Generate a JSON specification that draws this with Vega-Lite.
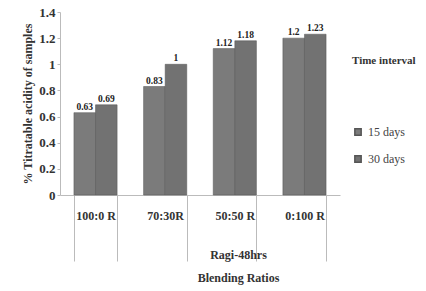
{
  "$schema": "https://vega.github.io/schema/vega-lite/v6.json",
  "width": 280,
  "height": 183,
  "autosize": {"type": "none"},
  "padding": {"left": 60, "top": 12, "right": 86, "bottom": 96},
  "background": "white",
  "config": {
    "view": {"stroke": null},
    "font": "Liberation Serif",
    "axis": {"labelFont": "Liberation Serif", "titleFont": "Liberation Serif"},
    "legend": {"labelFont": "Liberation Serif", "titleFont": "Liberation Serif"}
  },
  "data": {
    "values": [
      {"ratio": "100:0 R", "interval": "15 days", "acidity": 0.63},
      {"ratio": "100:0 R", "interval": "30 days", "acidity": 0.69},
      {"ratio": "70:30R", "interval": "15 days", "acidity": 0.83},
      {"ratio": "70:30R", "interval": "30 days", "acidity": 1},
      {"ratio": "50:50 R", "interval": "15 days", "acidity": 1.12},
      {"ratio": "50:50 R", "interval": "30 days", "acidity": 1.18},
      {"ratio": "0:100 R", "interval": "15 days", "acidity": 1.2},
      {"ratio": "0:100 R", "interval": "30 days", "acidity": 1.23}
    ]
  },
  "encoding": {
    "x": {
      "field": "ratio",
      "type": "nominal",
      "sort": null,
      "scale": {"paddingInner": 0.38, "paddingOuter": 0.2},
      "axis": {
        "title": ["Ragi-48hrs", "Blending Ratios"],
        "titleFontWeight": "bold",
        "titleFontSize": 12,
        "titleColor": "#333",
        "titleX": 178,
        "titleY": 54,
        "titleAlign": "center",
        "titleBaseline": "top",
        "titleLineHeight": 23,
        "labelAngle": 0,
        "labelFontWeight": "bold",
        "labelFontSize": 12,
        "labelColor": "#333",
        "labelPadding": -51,
        "tickBand": "extent",
        "tickSize": 66,
        "tickColor": "#bbb",
        "domainColor": "#bbb"
      }
    },
    "xOffset": {"field": "interval", "type": "nominal", "scale": {"paddingInner": 0}},
    "y": {
      "field": "acidity",
      "type": "quantitative",
      "scale": {"domain": [0, 1.4]},
      "axis": {
        "title": "% Titratable acidity of samples",
        "titleFontWeight": "bold",
        "titleFontSize": 12,
        "titleColor": "#333",
        "values": [0, 0.2, 0.4, 0.6, 0.8, 1, 1.2, 1.4],
        "format": "~g",
        "labelFontWeight": "bold",
        "labelFontSize": 13,
        "labelColor": "#333",
        "grid": false,
        "tickSize": 3,
        "tickColor": "#bbb",
        "domainColor": "#bbb"
      }
    }
  },
  "layer": [
    {
      "mark": {"type": "bar", "stroke": "#555", "strokeWidth": 0.5},
      "encoding": {
        "color": {
          "field": "interval",
          "type": "nominal",
          "scale": {"domain": ["15 days", "30 days"], "range": ["#7b7b7b", "#727272"]},
          "legend": {
            "title": "Time interval",
            "orient": "none",
            "legendX": 292,
            "legendY": 43,
            "titleFontWeight": "bold",
            "titleFontSize": 11,
            "titleColor": "#333",
            "titlePadding": 60,
            "labelFontSize": 12,
            "labelColor": "#444",
            "symbolType": "square",
            "symbolSize": 40,
            "rowPadding": 13
          }
        }
      }
    },
    {
      "mark": {"type": "text", "dy": -6, "fontSize": 9.5, "fontWeight": "bold", "font": "Liberation Serif", "color": "#222"},
      "encoding": {"text": {"field": "acidity", "type": "quantitative"}}
    }
  ]
}
